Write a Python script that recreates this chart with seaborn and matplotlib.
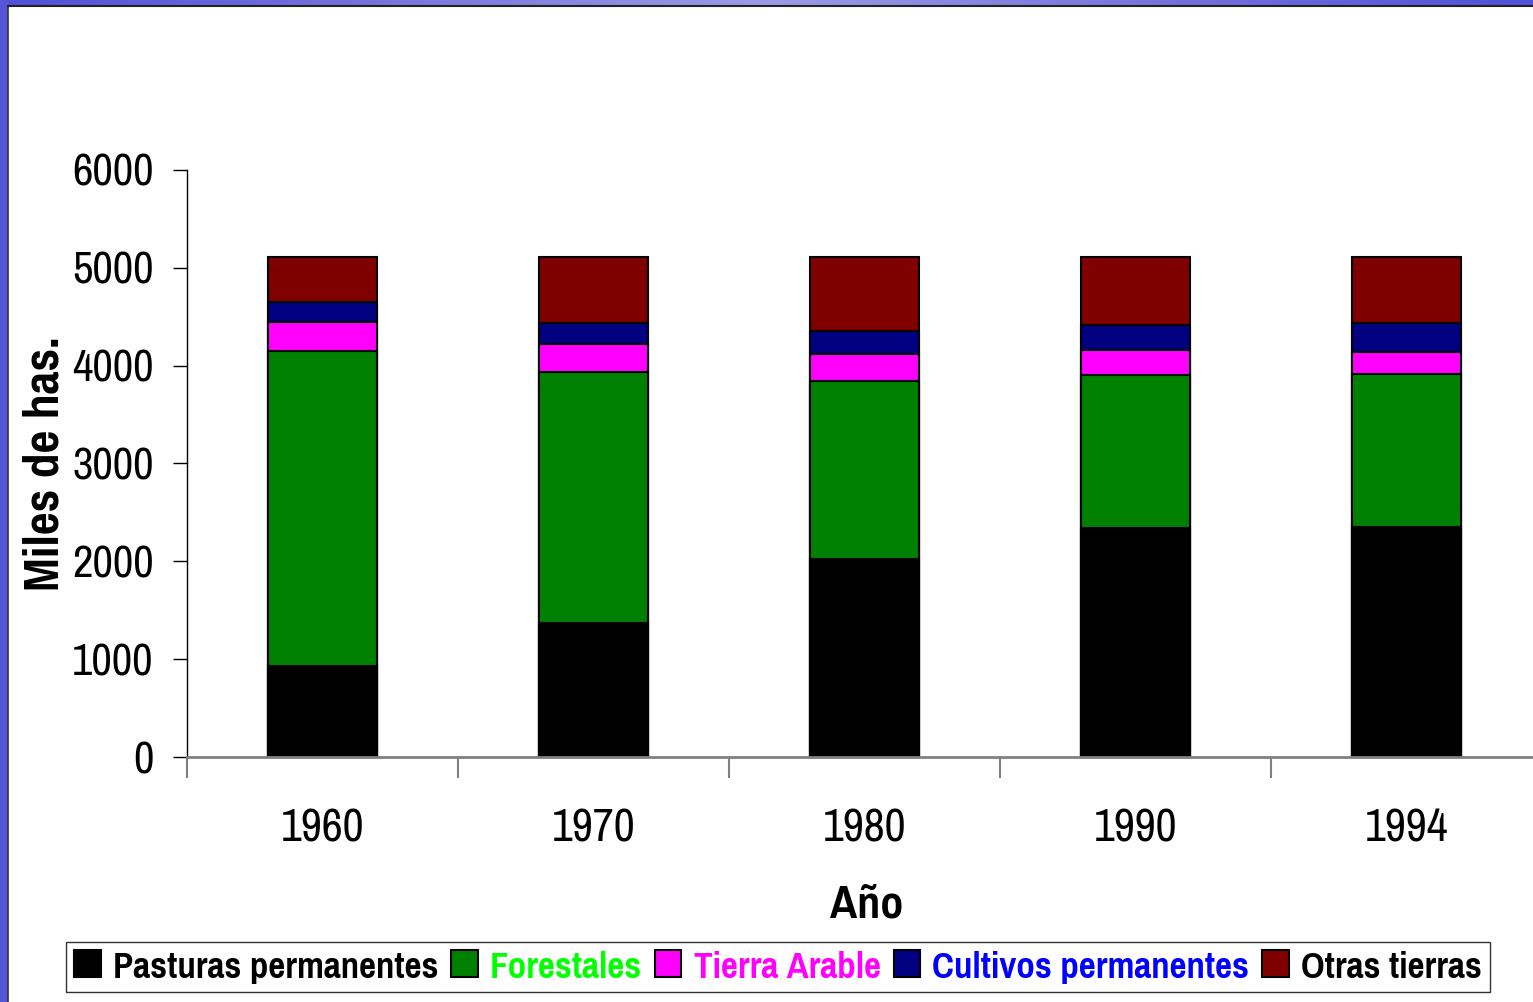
import numpy as np
import pandas as pd
import matplotlib
matplotlib.use("Agg")
import matplotlib.pyplot as plt
from matplotlib import font_manager
from matplotlib.patches import Patch
import seaborn as sns

anios = ["1960", "1970", "1980", "1990", "1994"]
pasturas = [930, 1370, 2024, 2340, 2350]
forestales = [3225, 2565, 1816, 1560, 1565]
tierra_arable = [290, 283, 282, 259, 225]
cultivos = [205, 215, 232, 253, 296]
otras = [460, 677, 756, 698, 674]

series = ["Pasturas permanentes", "Forestales", "Tierra Arable",
          "Cultivos permanentes", "Otras tierras"]
colores = ["#000000", "#008000", "#FF00FF", "#000080", "#800000"]
colores_texto = ["#000000", "#00FF00", "#FF00FF", "#0000FF", "#000000"]

df = pd.DataFrame({"Año": anios, series[0]: pasturas, series[1]: forestales,
                   series[2]: tierra_arable, series[3]: cultivos, series[4]: otras})

sns.set_style("white")

# buscar una fuente angosta tipo Arial Narrow (con negrita)
pesos = {}
for f in font_manager.fontManager.ttflist:
    w = f.weight if isinstance(f.weight, int) else 400
    pesos.setdefault(f.name, set()).add(w)
candidatas = ["Arial Narrow", "Liberation Sans Narrow", "Pragati Narrow", "PT Sans Narrow",
              "IBM Plex Sans Condensed", "Fira Sans Condensed", "Roboto Condensed",
              "Archivo Narrow"]
fuente = "Liberation Sans"
fuente_bold = "Liberation Sans"
for f in candidatas:
    if f in pesos:
        fuente = f
        break
for f in candidatas:
    if f in pesos and max(pesos[f]) >= 700:
        fuente_bold = f
        break
plt.rcParams["font.family"] = [fuente, "DejaVu Sans"]
plt.rcParams["text.color"] = "black"

W, H = 1533, 1002
fig = plt.figure(figsize=(W / 100, H / 100), dpi=100)

# marco azul
top = fig.add_axes([0, 1 - 6 / H, 1, 6 / H])
g = np.abs(np.linspace(-1, 1, 400))
top.imshow(1 - g[None, :], aspect="auto",
           cmap=matplotlib.colors.LinearSegmentedColormap.from_list("b", ["#5050D8", "#9A9AE6"]))
top.axis("off")
left = fig.add_axes([0, 0, 8 / W, 1])
left.set_facecolor("#5555D8")
left.set_xticks([]); left.set_yticks([])
for s in left.spines.values():
    s.set_visible(False)
fig.add_artist(plt.Line2D([8 / W, 8 / W], [0, 1 - 6 / H], color="#333333", lw=1.2))
fig.add_artist(plt.Line2D([8 / W, 1], [1 - 6 / H, 1 - 6 / H], color="#222222", lw=1.5))

ax = fig.add_axes([187 / W, 1 - 757 / H, 1355 / W, 587 / H])

# barras apiladas: se dibuja el acumulado de arriba hacia abajo
acum = df[series].cumsum(axis=1)
for i in range(len(series) - 1, -1, -1):
    sns.barplot(x=df["Año"], y=acum[series[i]], color=colores[i], width=0.4,
                edgecolor="black", linewidth=1.5, saturation=1, ax=ax)

ax.set_xlim(-0.5, 4.5)
ax.set_ylim(0, 6000)
ax.set_yticks(range(0, 6001, 1000))
ax.tick_params(axis="y", labelsize=35, length=10, width=1, direction="out",
               left=True, pad=14, colors="black")
ax.tick_params(axis="x", which="major", length=0, labelsize=36, pad=36, labelcolor="black")
ax.set_xticks(np.arange(-0.5, 4.6, 1), minor=True)
ax.tick_params(axis="x", which="minor", length=15, width=1.5, color="#808080",
               direction="out", bottom=True)
for s in ["top", "right"]:
    ax.spines[s].set_visible(False)
ax.spines["left"].set_color("#000000")
ax.spines["left"].set_linewidth(1)
ax.spines["bottom"].set_color("#808080")
ax.spines["bottom"].set_linewidth(2)
ax.set_ylabel("Miles de has.", fontsize=39, fontweight="bold", color="black",
              family=[fuente_bold, "DejaVu Sans"])
ax.yaxis.set_label_coords((45 - 187) / 1355, 0.5)
ax.set_xlabel("Año", fontsize=36, fontweight="bold", color="black",
              family=[fuente_bold, "DejaVu Sans"])
ax.xaxis.set_label_coords((867 - 187) / 1355, -(905 - 757) / 587)
ax.xaxis.label.set_va("center")
ax.yaxis.label.set_va("center")

handles = [Patch(facecolor=c, edgecolor="black", linewidth=1.5) for c in colores]
leg = fig.legend(handles, series, loc="center", bbox_to_anchor=(778 / W, 1 - 967 / H),
                 ncol=5, frameon=True, fancybox=False, edgecolor="black",
                 prop={"family": [fuente_bold, "DejaVu Sans"], "weight": "bold", "size": 29},
                 handlelength=0.65, handleheight=0.65, handletextpad=0.3,
                 columnspacing=0.33, borderpad=0.2, borderaxespad=0)
leg.get_frame().set_linewidth(1)
for t, c in zip(leg.get_texts(), colores_texto):
    t.set_color(c)

fig.savefig("out.png", dpi=100)
